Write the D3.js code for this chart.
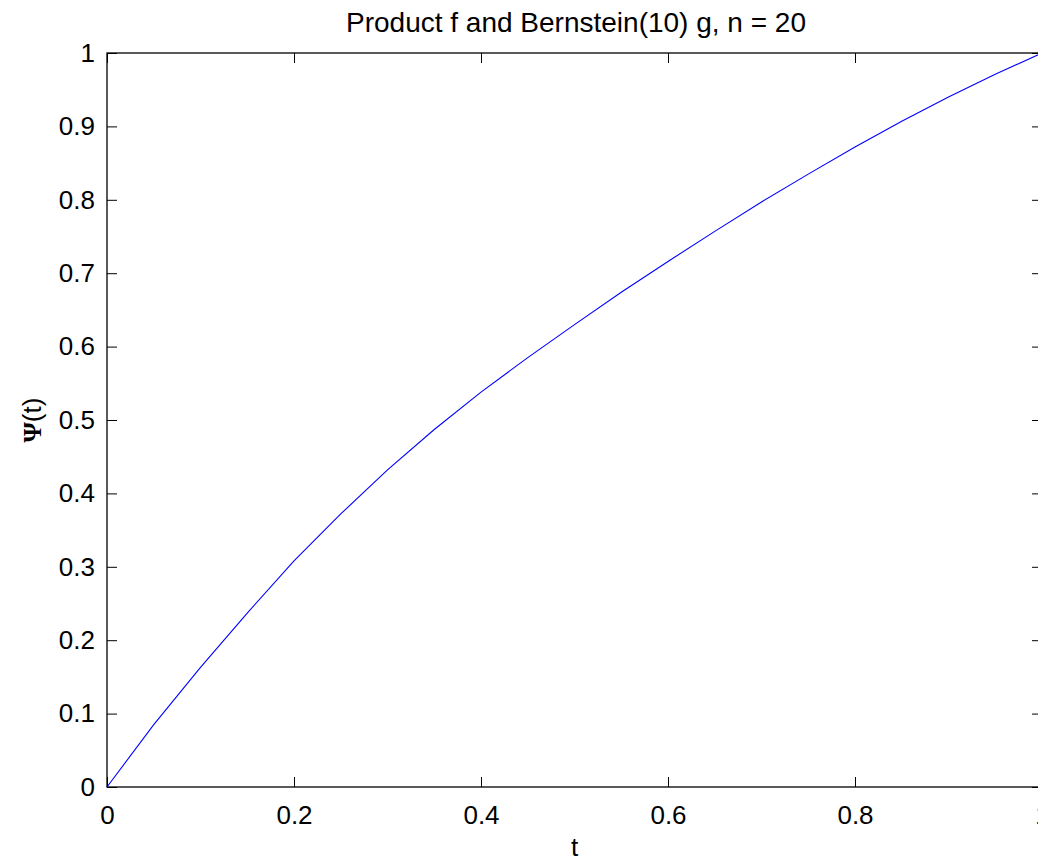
<!DOCTYPE html>
<html>
<head>
<meta charset="utf-8">
<script src="https://cdn.jsdelivr.net/npm/d3@7"></script>
<style>
  html, body { margin: 0; padding: 0; background: #fff; overflow: hidden; }
  svg { display: block; }
  text { font-family: "Liberation Sans", Arial, sans-serif; fill: #000; }
</style>
</head>
<body>
<svg id="chart" width="1038" height="857"></svg>
<script>
// ---- data ----
const tValues = [0, 0.05, 0.10, 0.15, 0.20, 0.25, 0.30, 0.35, 0.40, 0.45, 0.50,
                 0.55, 0.60, 0.65, 0.70, 0.75, 0.80, 0.85, 0.90, 0.95, 1.00];
const psiValues = [0, 0.085, 0.163, 0.237, 0.308, 0.372, 0.432, 0.487, 0.538, 0.585, 0.630,
                   0.674, 0.716, 0.757, 0.797, 0.835, 0.872, 0.907, 0.940, 0.971, 1.000];
const xTicks = [0, 0.2, 0.4, 0.6, 0.8, 1];
const yTicks = [0, 0.1, 0.2, 0.3, 0.4, 0.5, 0.6, 0.7, 0.8, 0.9, 1];
const titleText = "Product f and Bernstein(10) g, n = 20";
const xLabel = "t";

// ---- layout ----
const margin = {left: 107, top: 53};
const plotW = 935, plotH = 734;

const svg = d3.select("#chart");
const g = svg.append("g").attr("transform", `translate(${margin.left},${margin.top})`);

const x = d3.scaleLinear().domain([0, 1]).range([0, plotW]);
const y = d3.scaleLinear().domain([0, 1]).range([plotH, 0]);

const fmt = d => d === 0 ? "0" : d === 1 ? "1" : d3.format(".1f")(d);
const tickLen = 10;
const fs = 26;

function styleAxis(sel) {
  sel.select(".domain").remove();
  sel.selectAll(".tick line").attr("stroke", "#000").attr("stroke-width", 1);
  sel.selectAll(".tick text").style("font-size", fs + "px").attr("fill", "#222");
}

// bottom axis
g.append("g").attr("transform", `translate(0,${plotH})`)
  .call(d3.axisBottom(x).tickValues(xTicks).tickFormat(fmt).tickSizeInner(-tickLen).tickSizeOuter(0).tickPadding(19))
  .call(styleAxis);
// top axis (ticks only)
g.append("g")
  .call(d3.axisTop(x).tickValues(xTicks).tickFormat("").tickSizeInner(-tickLen).tickSizeOuter(0))
  .call(styleAxis);
// left axis
g.append("g")
  .call(d3.axisLeft(y).tickValues(yTicks).tickFormat(fmt).tickSizeInner(-tickLen).tickSizeOuter(0).tickPadding(12))
  .call(styleAxis);
// right axis (ticks only)
g.append("g").attr("transform", `translate(${plotW},0)`)
  .call(d3.axisRight(y).tickValues(yTicks).tickFormat("").tickSizeInner(-tickLen).tickSizeOuter(0))
  .call(styleAxis);

// frame
g.append("rect").attr("x", 0).attr("y", 0).attr("width", plotW).attr("height", plotH)
  .attr("fill", "none").attr("stroke", "#000").attr("stroke-width", 1.3);

// line
const pts = tValues.map((t, i) => [t, psiValues[i]]);
g.append("path").datum(pts)
  .attr("fill", "none").attr("stroke", "#0000ff").attr("stroke-width", 1.1)
  .attr("d", d3.line().x(d => x(d[0])).y(d => y(d[1])));

// title
svg.append("text").attr("x", 576).attr("y", 32).attr("text-anchor", "middle")
  .style("font-size", "28px").attr("fill", "#222").text(titleText);

// x label
svg.append("text").attr("x", margin.left + x(0.5)).attr("y", 856).attr("text-anchor", "middle")
  .style("font-size", "26px").attr("fill", "#222").text(xLabel);

// y label
const yl = svg.append("text").attr("transform", `translate(41,${margin.top + y(0.5)}) rotate(-90)`)
  .attr("text-anchor", "middle").style("font-size", "26px").attr("fill", "#222");
yl.append("tspan").style("font-family", "'Liberation Serif', serif").style("font-weight", "bold").text("\u03A8");
yl.append("tspan").text("(t)");
</script>
</body>
</html>
